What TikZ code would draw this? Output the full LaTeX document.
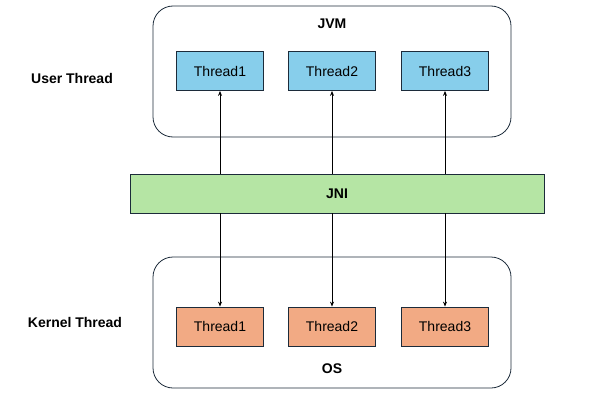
\documentclass[tikz,border=0pt]{standalone}
\usepackage{fontspec}
\setmainfont{Liberation Sans}
\usetikzlibrary{arrows.meta,positioning}
\definecolor{Uc}{HTML}{87CEEB}
\definecolor{Kc}{HTML}{F2AA84}
\definecolor{Jc}{HTML}{B5E5A4}
\definecolor{Ec}{HTML}{1C2B3A}
\tikzset{
  outer/.style={draw=Ec, line width=0.8pt, rounded corners=20pt, minimum width=358pt, minimum height=131pt, inner sep=0pt},
  uth/.style={rectangle, draw=Ec, line width=0.8pt, fill=Uc, minimum width=87pt, minimum height=39pt, inner sep=0pt, font=\fontsize{14}{16}\selectfont},
  kth/.style={rectangle, draw=Ec, line width=0.8pt, fill=Kc, minimum width=87pt, minimum height=39pt, inner sep=0pt, font=\fontsize{14}{16}\selectfont},
  jni/.style={rectangle, draw=Ec, line width=0.8pt, fill=Jc, minimum width=414pt, minimum height=39pt, inner sep=0pt, font=\bfseries\fontsize{14}{16}\selectfont},
  lbl/.style={font=\bfseries\fontsize{14}{16}\selectfont},
  link/.style={-{Stealth[length=5pt,width=4pt]}, line width=0.8pt},
}

\begin{document}
\begin{tikzpicture}[x=1pt, y=-1pt]
  \useasboundingbox (0,0) rectangle (589,420);
  \node[outer] (jvm) at (332,71.5) {};
  \node[outer] (os) at (332,322.5) {};
  \node[lbl] (jvmlbl) at (332,24) {JVM};
  \node[lbl] (oslbl) at (332,369) {OS};
  \node[lbl] (user) at (72,78) {User Thread};
  \node[lbl] (kernel) at (75,322) {Kernel Thread};
  \node[jni] (jnibar) at (337,193.5) {JNI};
  \foreach \i/\xx in {1/220,2/332,3/445}{%
    \node[uth] (u\i) at (\xx,71) {Thread\i};
    \node[kth] (k\i) at (\xx,326.5) {Thread\i};
    \draw[link] (jnibar.north -| u\i) -- (u\i);
    \draw[link] (jnibar.south -| k\i) -- (k\i);}
\end{tikzpicture}
\end{document}
